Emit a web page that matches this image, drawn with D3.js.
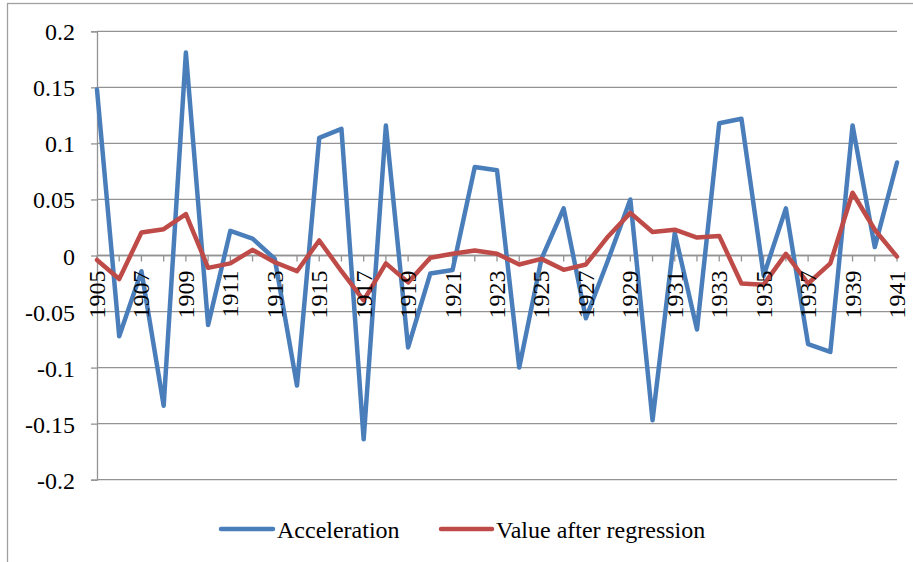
<!DOCTYPE html>
<html>
<head>
<meta charset="utf-8">
<script src="https://cdn.jsdelivr.net/npm/d3@7/dist/d3.min.js"></script>
<style>
  html, body { margin: 0; padding: 0; background: #fff; }
  svg text { fill: #000; }
</style>
</head>
<body>
<svg id="chart" width="913" height="562"></svg>
<script>
// Years on the category axis
const years = d3.range(1905, 1942);

// Acceleration series
const acceleration = [
  0.148, -0.072, -0.014, -0.134, 0.181, -0.062, 0.022, 0.015, -0.003, -0.116,
  0.105, 0.113, -0.164, 0.116, -0.082, -0.016, -0.013, 0.079, 0.076, -0.100,
  -0.003, 0.042, -0.056, -0.004, 0.050, -0.147, 0.020, -0.066, 0.118, 0.122,
  -0.018, 0.042, -0.079, -0.086, 0.116, 0.0075, 0.083
];

// Value after regression series
const regression = [
  -0.004, -0.021, 0.0205, 0.0235, 0.037, -0.011, -0.007, 0.005, -0.006, -0.014,
  0.0134, -0.014, -0.040, -0.007, -0.024, -0.002, 0.0015, 0.0045, 0.0015, -0.008,
  -0.003, -0.0128, -0.008, 0.017, 0.038, 0.021, 0.023, 0.016, 0.0175, -0.025,
  -0.026, 0.0015, -0.025, -0.007, 0.056, 0.023, -0.001
];

// Axis ticks
const yTicks = [-0.2, -0.15, -0.1, -0.05, 0, 0.05, 0.1, 0.15, 0.2];
const yTickLabels = ["-0.2", "-0.15", "-0.1", "-0.05", "0", "0.05", "0.1", "0.15", "0.2"];
const xLabelYears = years.filter(y => y % 2 === 1);

const seriesNames = ["Acceleration", "Value after regression"];
const seriesColors = ["#4a7ebb", "#be4b48"];

const FONT = "'Liberation Serif', 'Times New Roman', Times, serif";

const svg = d3.select("#chart");
const gridColor = "#939393";

// Outer chart frame
svg.append("rect")
  .attr("x", 7.5).attr("y", 3.5)
  .attr("width", 930).attr("height", 600)
  .attr("fill", "none")
  .attr("stroke", "#a0a0a0")
  .attr("stroke-width", 1.3);

const x = d3.scalePoint().domain(years).range([97, 897]);
const y = d3.scaleLinear().domain([-0.2, 0.2]).range([479.7, 31.3]);

// Horizontal gridlines
svg.append("g")
  .selectAll("line")
  .data(yTicks)
  .join("line")
  .attr("x1", 97).attr("x2", 897)
  .attr("y1", d => y(d)).attr("y2", d => y(d))
  .attr("stroke", gridColor)
  .attr("stroke-width", 1.3);

// Vertical axis with tick labels
const yAxis = svg.append("g")
  .attr("transform", "translate(97,0)")
  .call(d3.axisLeft(y)
    .tickValues(yTicks)
    .tickSize(6)
    .tickPadding(22)
    .tickFormat((d, i) => yTickLabels[i]));
yAxis.attr("font-family", null).attr("font-size", null);
yAxis.select(".domain").attr("stroke", gridColor).attr("stroke-width", 1.3);
yAxis.selectAll(".tick line").attr("stroke", gridColor).attr("stroke-width", 1.3);
yAxis.selectAll(".tick text")
  .attr("x", -22)
  .attr("dy", null)
  .attr("y", 8.5)
  .style("font-family", FONT)
  .style("font-size", "24px");

// Category axis at zero
const x0 = y(0);
svg.append("line")
  .attr("x1", 97).attr("x2", 897)
  .attr("y1", x0).attr("y2", x0)
  .attr("stroke", gridColor).attr("stroke-width", 1.3);
svg.append("g")
  .selectAll("line")
  .data(years)
  .join("line")
  .attr("x1", d => x(d)).attr("x2", d => x(d))
  .attr("y1", x0).attr("y2", x0 + 6)
  .attr("stroke", gridColor).attr("stroke-width", 1.3);

// Series lines
const line = d3.line()
  .x((d, i) => x(years[i]))
  .y(d => y(d));

[acceleration, regression].forEach((vals, k) => {
  svg.append("path")
    .datum(vals)
    .attr("d", line)
    .attr("fill", "none")
    .attr("stroke", seriesColors[k])
    .attr("stroke-width", 4.5)
    .attr("stroke-linejoin", "round")
    .attr("stroke-linecap", "round");
});

// Rotated year labels
svg.append("g")
  .selectAll("text")
  .data(xLabelYears)
  .join("text")
  .attr("transform", d => `translate(${x(d) + 8},${x0 + 15}) rotate(-90)`)
  .attr("text-anchor", "end")
  .style("font-family", FONT)
  .style("font-size", "24px")
  .text(d => d);

// Legend
const legend = svg.append("g");
const legendItems = [
  { x1: 221, x2: 273, tx: 277 },
  { x1: 441, x2: 492, tx: 496 }
];
legendItems.forEach((it, k) => {
  legend.append("line")
    .attr("x1", it.x1).attr("x2", it.x2)
    .attr("y1", 529).attr("y2", 529)
    .attr("stroke", seriesColors[k])
    .attr("stroke-width", 4.5)
    .attr("stroke-linecap", "round");
  legend.append("text")
    .attr("x", it.tx).attr("y", 537.5)
    .style("font-family", FONT)
    .style("font-size", "24px")
    .text(seriesNames[k]);
});
</script>
</body>
</html>
